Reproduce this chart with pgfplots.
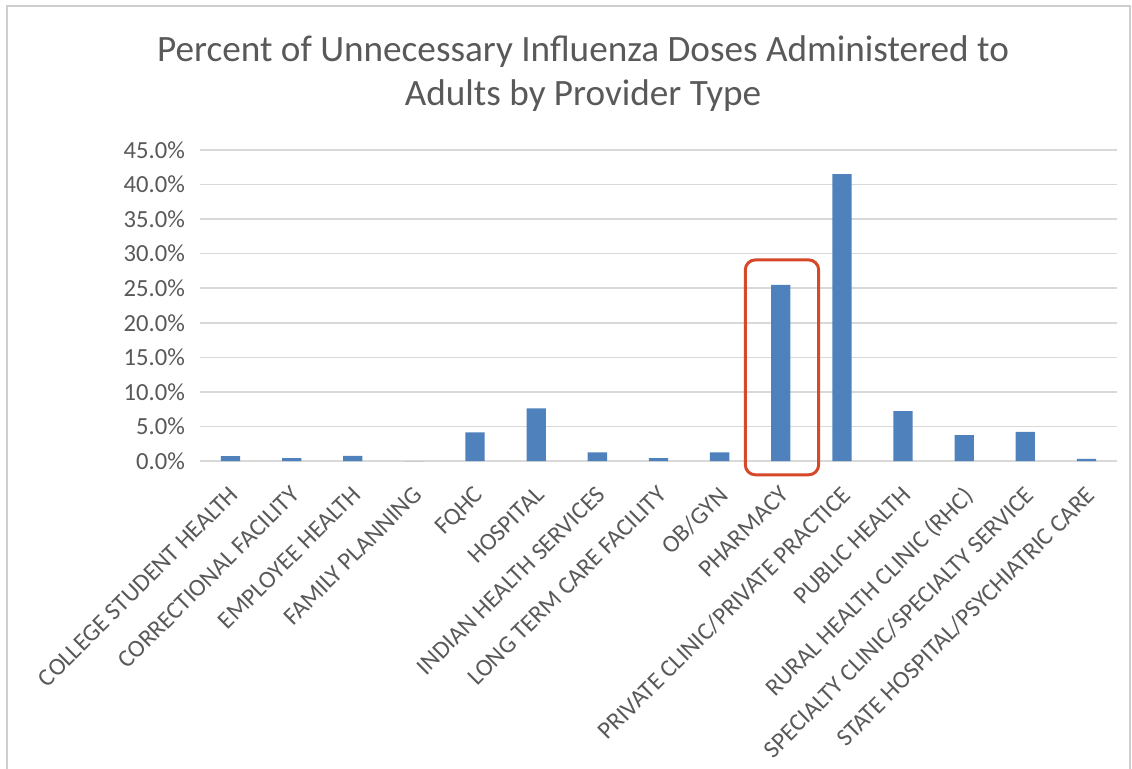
\documentclass[border=0pt]{standalone}
\usepackage{fontspec}
\setmainfont{Carlito}
\usepackage{pgfplots}
\pgfplotsset{compat=1.18}
\definecolor{barblue}{RGB}{79,129,189}
\definecolor{txtgray}{RGB}{89,89,89}
\definecolor{gridgray}{RGB}{217,217,217}
\definecolor{boxred}{RGB}{214,72,42}
\definecolor{framegray}{RGB}{208,206,204}
\begin{document}
\begin{tikzpicture}
\draw[framegray, line width=1pt] (3.5pt,-10pt) -- (3.5pt,381pt) -- (565pt,381pt) -- (565pt,-10pt);
\node[anchor=base, text=txtgray, font=\fontsize{18.6}{22}\selectfont] at (291.5pt,353pt) {Percent of Unnecessary Influenza Doses Administered to};
\node[anchor=base, text=txtgray, font=\fontsize{18.6}{22}\selectfont] at (291.5pt,331pt) {Adults by Provider Type};
\begin{axis}[
  at={(100pt,153.5pt)}, anchor=south west,
  width=458.5pt, height=155.5pt, scale only axis,
  xmin=-0.5, xmax=14.5, ymin=0, ymax=45,
  ytick={0,5,...,45},
  xtick={0,...,14},
  xticklabels={COLLEGE STUDENT HEALTH, CORRECTIONAL FACILITY, EMPLOYEE HEALTH, FAMILY PLANNING, FQHC, HOSPITAL, INDIAN HEALTH SERVICES, LONG TERM CARE FACILITY, OB/GYN, PHARMACY, PRIVATE CLINIC/PRIVATE PRACTICE, PUBLIC HEALTH, RURAL HEALTH CLINIC (RHC), SPECIALTY CLINIC/SPECIALTY SERVICE, STATE HOSPITAL/PSYCHIATRIC CARE},
  ymajorgrids, grid style={gridgray, line width=0.75pt},
  axis line style={draw=none}, major tick style={draw=none},
  /pgf/number format/assume math mode=true,
  yticklabel={\pgfmathprintnumber[fixed,fixed zerofill,precision=1]{\tick}\%},
  ticklabel style={font=\fontsize{12.3}{14}\selectfont, text=txtgray},
  y tick label style={xshift=-4pt},
  x tick label style={rotate=45, anchor=north east, inner sep=0pt, yshift=-7.5pt, xshift=-9pt},
  clip=false,
]
\addplot[ybar, bar width=9.65pt, fill=barblue, draw=none] coordinates {
(0,0.7) (1,0.4) (2,0.75) (3,0) (4,4.15) (5,7.6) (6,1.25) (7,0.4) (8,1.25) (9,25.5) (10,41.5) (11,7.2) (12,3.75) (13,4.2) (14,0.3)};
\draw[boxred, line width=1.5pt, rounded corners=5pt] (axis cs:8.42,-2.0) rectangle (axis cs:9.62,29.1);
\end{axis}
\pgfresetboundingbox
\useasboundingbox (0,0) rectangle (566pt,384pt);
\end{tikzpicture}
\end{document}
